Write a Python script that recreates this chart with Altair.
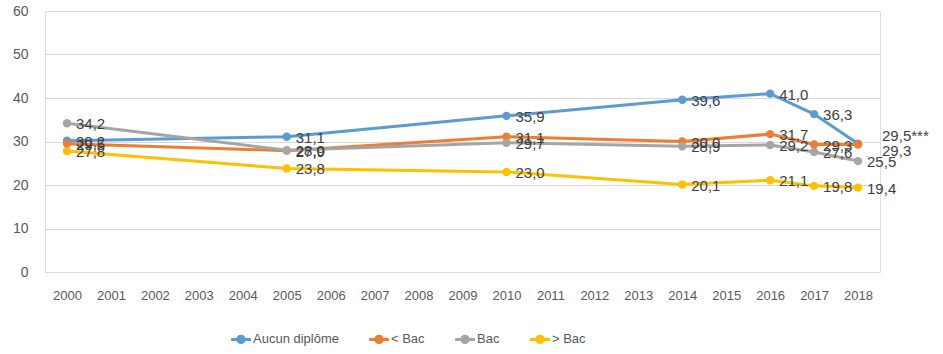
import altair as alt
import pandas as pd

years_all = [str(y) for y in range(2000, 2019)]
years = ["2000", "2005", "2010", "2014", "2016", "2017", "2018"]
series = ["Aucun diplôme", "< Bac", "Bac", "> Bac"]
aucun = [30.2, 31.1, 35.9, 39.6, 41.0, 36.3, 29.5]
inf_bac = [29.5, 27.9, 31.1, 30.0, 31.7, 29.3, 29.3]
bac = [34.2, 28.0, 29.7, 28.9, 29.2, 27.6, 25.5]
sup_bac = [27.8, 23.8, 23.0, 20.1, 21.1, 19.8, 19.4]
colors = ["#5B9BD5", "#ED7D31", "#A5A5A5", "#FFC000"]
suffix_2018 = {"Aucun diplôme": "***"}

rows = []
for s, vals in zip(series, [aucun, inf_bac, bac, sup_bac]):
    for y, v in zip(years, vals):
        rows.append({"year": y, "serie": s, "v": v,
                     "suffix": suffix_2018.get(s, "") if y == "2018" else ""})
df = pd.DataFrame(rows)

FONT = "Liberation Sans"
xscale = alt.Scale(domain=years_all, type="point", padding=0.5)
yscale = alt.Scale(domain=[0, 60], nice=False)
x = alt.X("year:O", scale=xscale,
          axis=alt.Axis(title=None, labelAngle=0, labelFont=FONT,
                        labelFontSize=13, labelColor="#595959", ticks=False,
                        domain=False, grid=False, labelPadding=17))
y = alt.Y("v:Q", scale=yscale,
          axis=alt.Axis(title=None, values=[0, 10, 20, 30, 40, 50, 60], ticks=False,
                        domain=False, gridColor="#D9D9D9", gridWidth=1,
                        labelFont=FONT, labelFontSize=14, labelColor="#595959",
                        labelPadding=17))
color = alt.Color("serie:N", scale=alt.Scale(domain=series, range=colors),
                  legend=alt.Legend(title=None, orient="none", direction="horizontal",
                                    legendX=187, legendY=319,
                                    symbolType="M-1.4,0 L1.4,0 M-0.45,0 A0.45,0.45 0 1,0 0.45,0 A0.45,0.45 0 1,0 -0.45,0",
                                    symbolSize=200, symbolStrokeWidth=3,
                                    labelFont=FONT, labelFontSize=13,
                                    labelColor="#595959", columnPadding=24,
                                    labelOffset=3))

base = alt.Chart(df).encode(x=x, y=y, color=color)
lines = base.mark_line(strokeWidth=3)
points = base.mark_point(filled=True, size=70, opacity=1)

text_base = alt.Chart(df).transform_calculate(
    label="replace(format(datum.v, '.1f'), '.', ',') + datum.suffix"
)
enc = dict(x=alt.X("year:O", scale=xscale), y=alt.Y("v:Q", scale=yscale), text="label:N")
txt_main = text_base.transform_filter(
    "datum.year != '2018' || (datum.serie != 'Aucun diplôme' && datum.serie != '< Bac')"
).mark_text(align="left", baseline="middle", dx=9, dy=1, font=FONT, fontSize=15,
            color="#404040").encode(**enc)
txt_blue18 = text_base.transform_filter(
    "datum.year == '2018' && datum.serie == 'Aucun diplôme'"
).mark_text(align="left", baseline="middle", dx=24, dy=-8, font=FONT, fontSize=15,
            color="#404040").encode(**enc)
txt_or18 = text_base.transform_filter(
    "datum.year == '2018' && datum.serie == '< Bac'"
).mark_text(align="left", baseline="middle", dx=24, dy=6, font=FONT, fontSize=15,
            color="#404040").encode(**enc)

chart = alt.layer(lines, points, txt_main, txt_blue18, txt_or18).properties(
    width=835, height=261,
    autosize=alt.AutoSizeParams(type="none"),
    padding={"left": 45, "top": 11, "right": 63, "bottom": 82},
).configure_view(stroke=None).configure(background="white")

chart.save("out.html", embed_options={"renderer": "svg", "actions": False})
